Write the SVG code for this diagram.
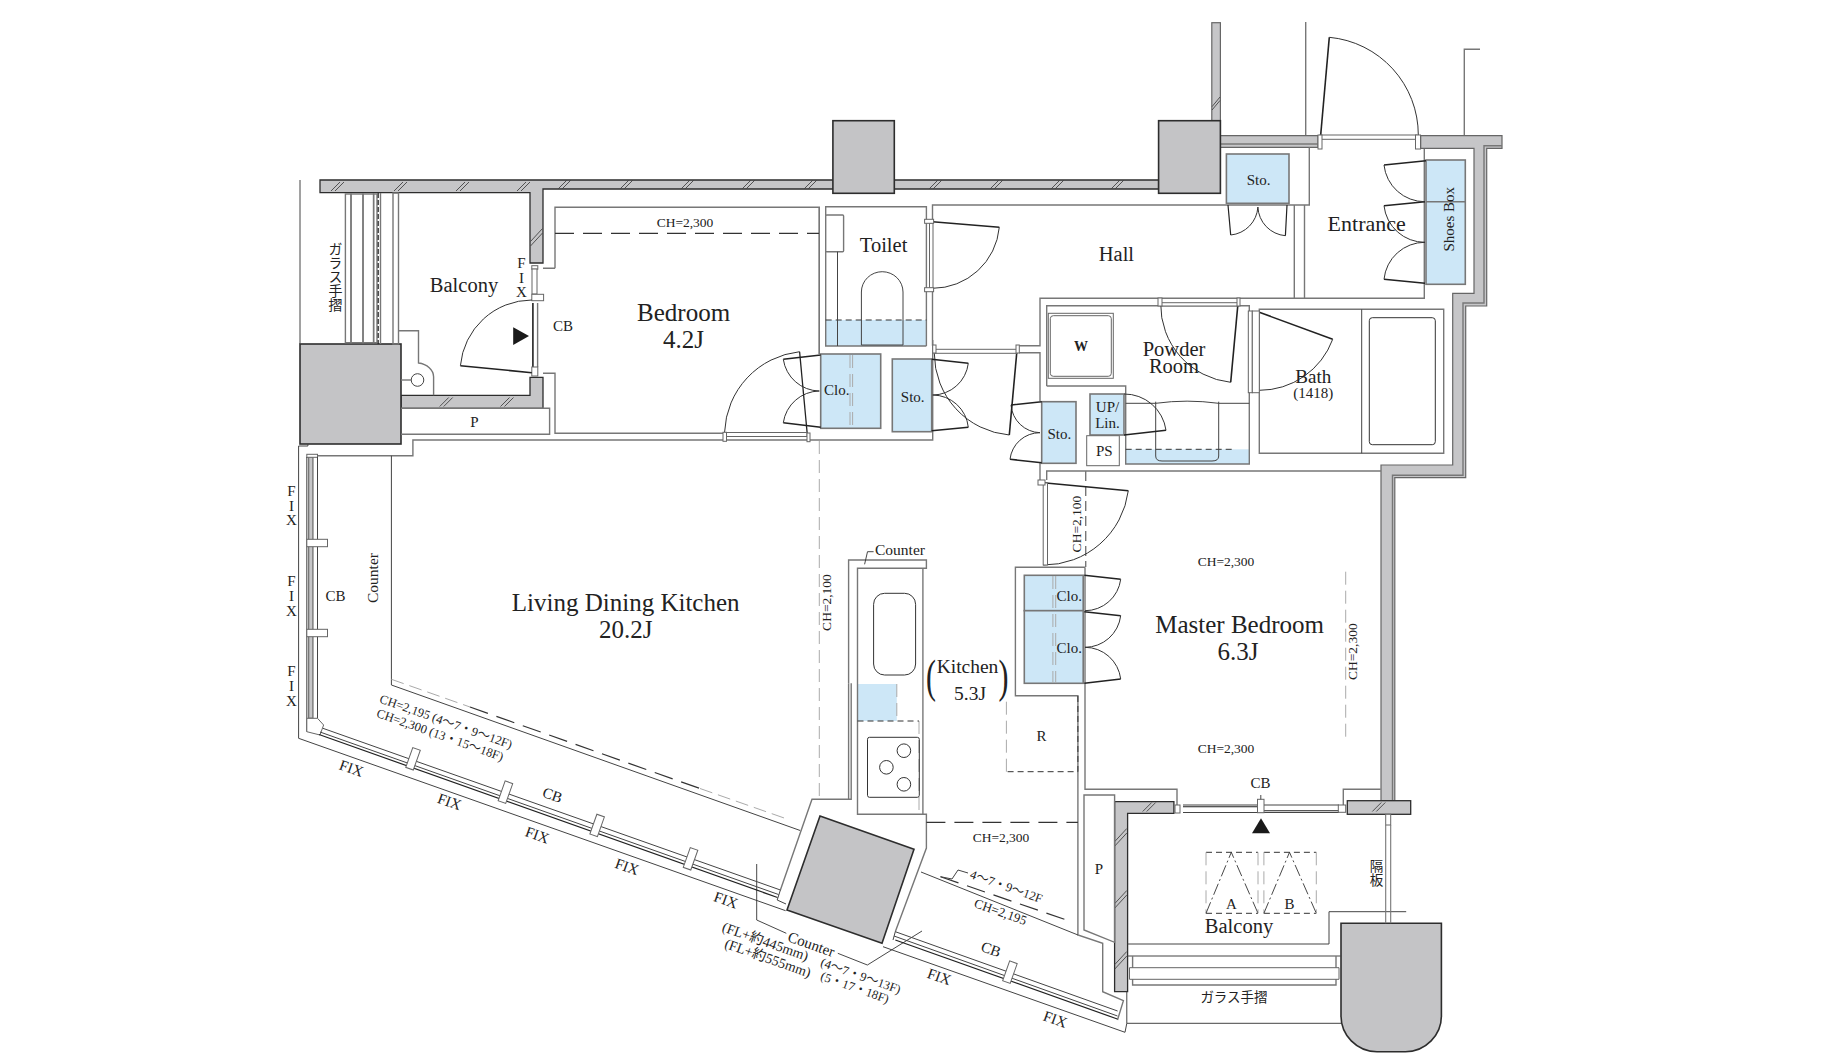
<svg xmlns="http://www.w3.org/2000/svg" xmlns:xlink="http://www.w3.org/1999/xlink" width="1840" height="1064" viewBox="0 0 1840 1064">
<style>
text{font-family:"Liberation Serif","Noto Sans CJK JP",serif;fill:#222;text-anchor:middle}
.s13{font-size:13.5px}.s15{font-size:15px}.s20{font-size:20.5px}.s25{font-size:25px}
.c{dominant-baseline:central}
.v{writing-mode:vertical-rl;font-family:"Noto Sans CJK JP",sans-serif;font-size:14px}
.n{fill:none;stroke:#444;stroke-width:1}
.t{fill:none;stroke:#333;stroke-width:.9}
.g{fill:none;stroke:#777;stroke-width:1.4}
.w{fill:#fff;stroke:#666;stroke-width:1}
.k{fill:none;stroke:#222;stroke-width:1.6}
.a{fill:none;stroke:#333;stroke-width:1}
.d{fill:none;stroke:#333;stroke-width:1.2;stroke-dasharray:19 9}
.e{fill:none;stroke:#333;stroke-width:1;stroke-dasharray:6 4}
.f{fill:none;stroke:#aaa;stroke-width:1;stroke-dasharray:13 6}
.p{fill:#c4c4c6;stroke:#2d2d2d;stroke-width:1.6}
.wl{fill:#c6c6c8;stroke:#2d2d2d;stroke-width:1.3}
.wm{fill:#c6c6c8;stroke:#666;stroke-width:1.2}
.b{fill:#cde7f7}
.bx{fill:#cde7f7;stroke:#777;stroke-width:1.6}
.h{fill:none;stroke:#444;stroke-width:.9}
</style>
<defs>
<path id="h" class="h" d="M-6,4.5L3,-4.5M-2,4.5L7,-4.5"/>
<path id="hv" class="h" d="M-6,6.5L6,-6.5M-6,11L6,-2"/>
<rect id="mu" class="w" x="-4" y="-10" width="8" height="21" stroke="#444"/>
</defs>

<g id="walls">
<path class="wl" d="M320,180H1158.6V189H543V263H530V192.700H320Z"/>
<path class="wl" d="M401,395.300H530V377.300H543V408.300H401Z"/>
<rect class="wm" x="1211.800" y="22.700" width="8.600" height="98"/>
<path class="wm" d="M1220.400,135.700H1318V147.300H1220.400Z"/>
<path class="g" d="M1220.400,144H1318"/>
<path class="wm" d="M1420.700,135.700H1502V148.300H1486.700V306H1465.700V477.700H1394.800V800.700H1381V465H1452.700V293.300H1474V148.300H1420.700Z"/>
<path class="g" d="M1502,145.700H1484V303H1463V475.300H1392.500V800"/>
<path class="wl" d="M1114.600,801.700H1173.900V813.300H1127.600V991.700H1114.600Z"/>
<rect class="wl" x="1347.300" y="800.700" width="63.400" height="13.600"/>
<g id="hatches">
<use xlink:href="#h" x="337" y="186.500"/><use xlink:href="#h" x="400" y="186.500"/><use xlink:href="#h" x="462" y="186.500"/><use xlink:href="#h" x="523" y="186.500"/><use xlink:href="#h" x="564" y="184.500"/><use xlink:href="#h" x="626" y="184.500"/><use xlink:href="#h" x="687" y="184.500"/><use xlink:href="#h" x="748" y="184.500"/><use xlink:href="#h" x="810" y="184.500"/><use xlink:href="#h" x="935" y="184.500"/><use xlink:href="#h" x="996" y="184.500"/><use xlink:href="#h" x="1057" y="184.500"/><use xlink:href="#h" x="1117" y="184.500"/>
<use xlink:href="#h" x="445.700" y="402"/><use xlink:href="#h" x="506.500" y="402"/>
<use xlink:href="#h" x="1148.700" y="807"/><use xlink:href="#h" x="1378.300" y="807"/>
<use xlink:href="#hv" x="536.500" y="235"/><use xlink:href="#hv" x="1120.800" y="835"/><use xlink:href="#hv" x="1120.800" y="897"/><use xlink:href="#hv" x="1120.800" y="958"/>
<path class="h" d="M1212,106.700L1220,97M1212,110L1220,100.500"/>
</g>
</g>

<g id="pillars">
<rect class="p" x="300" y="344" width="101" height="100"/>
<rect class="p" x="832.900" y="120.700" width="61.400" height="72.600"/>
<rect class="p" x="1158.600" y="120.700" width="61.800" height="72.600"/>
<path class="p" d="M820,816L914,849.300L882,943.300L787,910Z"/>
<path class="p" d="M1341,923.300H1441.400V1015A36,36 0 0 1 1405.400,1051.700H1377A36,36 0 0 1 1341,1015Z"/>
</g>

<g id="blue-fills">
<rect class="b" x="825.700" y="320" width="100.700" height="26"/>
<rect class="b" x="1125.700" y="449.300" width="123.600" height="14.700"/>
<rect class="b" x="857.500" y="684" width="39.300" height="37"/>
</g>

<g id="structure">
<path class="n" d="M300,180V344"/>
<path class="g" d="M555,268.300V207.300H819.300V354M543,268.300H555M543,373.300H555V433.300H724.600"/>
<path class="g" d="M401,408.300H549.600V434.300H401"/>
<path class="n" d="M307.900,444V446H298.600V738.300L785.600,910.700"/>
<path class="g" d="M317.500,455.700H412.900V440H807M810,440H932.700V340"/>
<path class="n" d="M391.400,455.700V685L800.200,830.500"/>
<path class="g" d="M819.300,207.300V354"/>
<path class="g" d="M926.400,346V206.700H825.700V346H926.400"/>
<path class="g" d="M932.500,221V205H1309.300V147.300M932.500,291V345.700"/>
<rect class="w" x="929.500" y="223" width="3.500" height="65"/>
<path class="g" d="M1294.300,205V298.300M1304.500,205V298.300M1424.300,149V298.300H1040V345.700H1019M1019,352.700H1040V401M1040,463V480"/>
<path class="g" d="M1046.700,480V471H1381M1046.700,386V305.700H1249.300V464H1125.700V386H1046.700"/>
<path class="n" d="M1125.700,403.300H1155.700Q1187,399 1218.700,403.300H1249.300"/>
<path class="g" d="M1085,567.300H1015.400V695.700H1077.900V935L1102.700,943.300V991.700L1123.400,1000.700L1117.500,1020M1085,567.300V789.300H1177V805"/>
<path class="g" d="M1084,795H1114.600V942.300L1084,930Z"/>
<path class="g" d="M1343.300,805V789.300H1380.700"/>
<path class="g" d="M1464.300,135V49.300H1480M1305.700,22V135"/>
<path class="g" d="M848.600,683.300V799.300M851.200,683.300V799.300H812L780.400,890"/>
<path class="g" d="M848.600,683.300V560H926.400V568.300H857.500V814.300H926.400V848L895.300,931.700"/>
<path class="g" d="M922.900,568V814.300"/>
<path class="n" d="M921,872L1078,935"/>
<path class="n" d="M1127.600,944H1329V911.700H1406.200"/>
<path class="n" d="M1127.600,956H1341"/>
<path class="g" d="M1132.600,956V985H1336V956"/>
<path class="w" d="M1129.500,967.700H1339V979.300H1129.500Z" stroke="#555"/>
<path class="n" d="M1126.800,991.700V1023.300H1341M1126.800,1023.300L1125,1032.300L883,946.700"/>
<path class="g" d="M1085.700,471V567" stroke-dasharray="10 5" stroke="#bbb"/>
<path class="f" d="M819.300,441V800M1345.700,571.700V738.300"/>
<path class="f" d="M896.800,684V721M919,721V814" stroke-dasharray="6 4"/>
<path class="f" d="M1006.400,701.700V771.700" stroke-dasharray="6 4"/>
<path class="e" d="M1077.900,696V771.700H1006.400M857.500,721H919"/>
<path class="d" d="M555,233.300H819M926.400,822.300H1077.900"/>
<path class="e" d="M825.700,320H926.400M1125.700,449.300H1235"/>
<path class="f" d="M391.400,679.300L470,707" stroke-dasharray="15 12"/>
<path class="d" d="M470,707L700,788.500"/>
<path class="f" d="M700,788.500L787,819" stroke="#777" stroke-dasharray="15 12"/>
<path class="d" d="M940.500,876.700L1071.400,921.700" stroke-width="1" stroke-dasharray="16 10"/>
<path class="n" d="M940.500,876.700L952,879L958,870L968,873"/>
<path class="t" d="M756.700,864V920L786.300,933.300M837.800,953.300L867.400,965L922,931"/>
<path class="t" d="M864.600,564.300L867.500,551.700H873.600"/>
</g>

<g id="balcony-fixtures">
<rect class="g" x="345.400" y="194" width="5.600" height="148.700"/>
<rect class="g" x="351" y="194" width="12" height="148.700"/>
<rect class="g" x="363" y="194" width="10.600" height="148.700"/>
<rect class="g" x="373.600" y="194" width="3.400" height="148.700"/>
<path d="M378.200,193V344" stroke="#222" stroke-width="1.2" stroke-dasharray="5 2"/>
<path class="g" d="M380.500,193V344"/>
<rect class="g" x="393" y="193" width="5.500" height="151"/>
<path class="g" d="M398.500,330.700H418.500V363A18,14 0 0 1 433.600,376.700V395.300"/>
<circle class="n" cx="417.500" cy="380" r="6.300"/>
<path class="g" d="M401,380H411"/>
</g>

<g id="windows">
<rect class="w" x="531.800" y="265.700" width="6" height="3.500"/>
<rect class="w" x="532" y="269" width="5" height="25"/>
<rect class="w" x="531.800" y="294.300" width="11.800" height="6.400"/>
<path class="k" d="M532.900,303V367" stroke-width="1.3"/>
<path class="g" d="M537.600,303V367"/>
<rect class="w" x="531.800" y="367" width="6" height="9"/>
<rect class="g" x="308.600" y="456.700" width="4.300" height="261.600" style="fill:#c6c6c8"/>
<rect class="w" x="306.800" y="454.300" width="10.700" height="3"/>
<path class="n" d="M306.800,457V731.700M317.500,457V718.300"/>
<rect class="w" x="306.800" y="539.300" width="20.700" height="7.400"/>
<rect class="w" x="306.800" y="629.300" width="20.700" height="7.400"/>
<path class="w" d="M306.800,718.300H317.500L323.600,725L320,735L306.800,731.700Z"/>
<path class="n" d="M322.900,728.300L780.400,890M320,732L778.500,894.500"/>
<path class="k" d="M319,734.500L777.500,897.500" style="stroke-width:1.200px"/>
<path class="n" d="M780.400,890L777.200,900L786,904"/>
<use xlink:href="#mu" transform="translate(413.200 758.300) rotate(19.500)"/>
<use xlink:href="#mu" transform="translate(505.600 791.700) rotate(19.500)"/>
<use xlink:href="#mu" transform="translate(597.300 825) rotate(19.500)"/>
<use xlink:href="#mu" transform="translate(690.700 858.300) rotate(19.500)"/>
<path class="n" d="M895.300,931.700L1117.600,1011M894,936L1117.500,1016"/>
<path class="k" d="M895.300,940L1117.300,1019" style="stroke-width:1.200px"/>
<path class="n" d="M895.300,931.700L893,940"/>
<use xlink:href="#mu" transform="translate(1010.100 971.700) rotate(19.500)"/>
<path class="n" d="M1183,805H1257.500M1264,805H1339M1183,812.500H1339"/>
<path class="k" d="M1183,806.700H1257.500M1264,810.700H1339.600" style="stroke-width:1.100px"/>
<rect class="w" x="1175" y="805" width="5" height="8"/>
<rect class="w" x="1338.300" y="805" width="7.400" height="7.300"/>
<rect class="w" x="1257.500" y="799.300" width="6.500" height="13.400"/>
<path class="t" d="M1260.800,795V799.300"/>
<path d="M1252,833.300H1270L1261,818.300Z" fill="#1a1a1a"/>
<path d="M513.200,327.300V345L529,336Z" fill="#1a1a1a"/>
<rect class="w" x="1385.700" y="814.300" width="5" height="10.700"/>
<path class="g" d="M1385.700,825V923.300M1390.700,825V923.300" style="stroke-width:1.100px"/>
</g>

<g id="toilet"><rect class="g" x="825.700" y="215" width="17.900" height="36.700" rx="1" style="fill:#fff"/>
<path class="n" d="M837.500,251.700V346M861.400,345V292A20.800,20.300 0 0 1 903,292V345Z"/></g>

<g id="closets">
<rect class="bx" x="820.700" y="354" width="60" height="74.300"/>
<path class="f" d="M850,355V427M852.600,355V427" stroke-dasharray="7 3"/>
<rect class="bx" x="892.300" y="359" width="39.400" height="72.700"/>
<rect class="bx" x="1226.400" y="154" width="62.600" height="49.300"/>
<rect class="bx" x="1426" y="160" width="39.300" height="124.300"/>
<path class="g" d="M1426,201.700H1465"/>
<rect class="bx" x="1041.700" y="401.700" width="34.300" height="61.600"/>
<rect class="bx" x="1090" y="394" width="34" height="41"/>
<rect class="w" x="1086.700" y="435.700" width="32.600" height="30"/>
<rect class="bx" x="1024.300" y="575.300" width="58.900" height="35.400"/>
<rect class="bx" x="1024.300" y="610.700" width="58.900" height="72.600"/>
<path class="f" d="M1052.900,576V683M1055.700,576V683" stroke-dasharray="7 3"/>
</g>

<g id="wet-fixtures">
<rect class="w" x="1048.300" y="313.300" width="65" height="65"/>
<rect class="w" x="1050.300" y="315.700" width="61" height="60.600" rx="3"/>
<path class="n" d="M1155.700,401.700V456Q1155.700,461 1162,461H1212Q1218.700,461 1218.700,456V401.700"/>
<path class="g" d="M1259.300,309.300H1443.700V453.300H1259.300Z"/>
<path class="n" d="M1361.700,309.300V453.300"/>
<rect class="a" x="1369.300" y="317.700" width="66" height="127" rx="3"/>
<rect class="a" x="873.600" y="593.300" width="42" height="81.700" rx="11"/>
<rect class="a" x="867.500" y="737.300" width="51.800" height="60" rx="2"/>
<circle class="a" cx="903.900" cy="750.700" r="6.800"/><circle class="a" cx="886.400" cy="767.300" r="6.800"/><circle class="a" cx="903.900" cy="784.300" r="6.800"/>
</g>

<g id="outdoor-units">
<path class="e" d="M1206,852.300H1258M1206,913.300H1258M1263.900,852.300H1316.300M1263.900,913.300H1316.300" stroke-dasharray="17 4"/>
<path class="f" d="M1206,852.300V913.300M1258,852.300V913.300M1263.900,852.300V913.300M1316.300,852.300V913.300" stroke-dasharray="14 4"/>
<path class="t" stroke-dasharray="12 3 2 3" d="M1206,913.300L1231.300,852.300L1258,913.300M1263.900,913.300L1289.500,852.300L1316.300,913.300"/>
</g>

<g id="doors">
<path class="k" d="M531.800,372.700L460.400,365.700"/><path class="a" d="M460.400,365.700A72,72 0 0 1 531.800,300"/>
<path class="k" d="M807.500,436.700L799.600,351.700" style="stroke-width:1.300px"/><path class="a" d="M724.600,432A84,84 0 0 1 799.600,351.700"/>
<rect class="w" x="725" y="432.500" width="82" height="4"/>
<rect class="w" x="723" y="432.300" width="3.500" height="9"/><rect class="w" x="807" y="433" width="3" height="8.700"/>
<path class="k" d="M820.700,355L783.300,359.300"/><path class="a" d="M783.300,359.300A37,37 0 0 0 819.300,391"/>
<path class="k" d="M820.700,427.300L783.300,422.700"/><path class="a" d="M783.300,422.700A37,37 0 0 1 819.300,391"/>
<path class="k" d="M932.500,221.700L999.300,227.300"/><path class="a" d="M999.300,227.300A67,67 0 0 1 932.500,288.300"/>
<rect class="w" x="924.600" y="219.300" width="9" height="4"/><rect class="w" x="924.600" y="287.700" width="9" height="4"/>
<path class="k" d="M1320.700,135L1329.300,37.300"/><path class="a" d="M1329.300,37.300A98,98 0 0 1 1418.300,135"/>
<rect class="w" x="1320" y="135" width="97" height="4.300"/>
<rect class="w" x="1318" y="135" width="4" height="14" stroke="#444"/><rect class="w" x="1415.500" y="135" width="5" height="14" stroke="#444"/>
<path class="k" d="M1228,205L1230.700,235M1287,205L1285.400,235.700" style="stroke-width:1.200px"/>
<path class="a" d="M1230.700,235A30,30 0 0 0 1257.900,207M1285.400,235.700A30,30 0 0 1 1257.900,207"/>
<path class="k" d="M1426,160.700L1384,165M1425,201.700L1384,205.700M1425,283.300L1384,279.300"/>
<path class="a" d="M1384,165A41,41 0 0 0 1425,201.700M1384,205.700A41,41 0 0 0 1425,242.300M1384,279.300A41,41 0 0 1 1425,242.300"/>
<path class="k" d="M1259.300,312.300L1332.700,339.300"/><path class="a" d="M1332.700,339.300A78,78 0 0 1 1259.300,390.300"/>
<rect class="w" x="1248.300" y="311" width="4" height="81.700"/><rect class="w" x="1252.300" y="311" width="7" height="81.700"/>
<path class="k" d="M1238,303.300L1230.700,382.300"/><path class="a" d="M1230.700,382.300A78,78 0 0 1 1160.700,303.300"/>
<rect class="w" x="1160.700" y="302.700" width="77.300" height="3.300" stroke="#333"/>
<rect class="w" x="1158" y="298" width="4" height="8"/><rect class="w" x="1237" y="298" width="3" height="8"/>
<path class="k" d="M1124,435L1166,430.300"/><path class="a" d="M1166,430.300A42,42 0 0 0 1124,394"/>
<path class="k" d="M1041.700,401.700L1011,405M1041.700,462.700L1010,459.300"/>
<path class="a" d="M1011,405A30,30 0 0 0 1040,432.700M1010,459.300A30,30 0 0 1 1040,432.700"/>
<path class="k" d="M1016.700,353.300L1009.300,435"/><path class="a" d="M934.300,353.300A82,82 0 0 0 1009.300,435"/>
<rect class="w" x="934.300" y="349.300" width="83" height="4"/>
<rect class="w" x="932.700" y="345" width="3.300" height="8"/><rect class="w" x="1016" y="345" width="3.300" height="8"/>
<path class="k" d="M931.700,359.300L968.300,363.300M931.700,430.700L968.300,427.300"/>
<path class="a" d="M968.300,363.300A36,36 0 0 1 932.700,395M968.300,427.300A36,36 0 0 0 932.700,395"/>
<path class="k" d="M1043.300,482.700L1128.300,490.700"/><path class="a" d="M1128.300,490.700A85,85 0 0 1 1043.200,565"/>
<rect class="w" x="1043.200" y="483" width="4.300" height="82"/><rect class="w" x="1038" y="480" width="7" height="5"/>
<path class="k" d="M1084.300,575.300L1120.700,579.300M1084.300,611.700L1120.700,615.700M1084.300,683.300L1120.700,679"/>
<path class="a" d="M1120.700,579.300A36,36 0 0 1 1085,610.700M1120.700,615.700A36,36 0 0 1 1085,647.300M1120.700,679A36,36 0 0 0 1085,647.300"/>
</g>

<g id="labels">
<text class="s25" x="683.600" y="320.700">Bedroom</text><text class="s25" x="683.600" y="348.300">4.2J</text>
<text class="s20" x="464" y="291.700">Balcony</text>
<text class="s15" x="521.400" y="267.700">F</text><text class="s15" x="521.400" y="282.700">I</text><text class="s15" x="521.400" y="296.700">X</text>
<text class="s15" x="563" y="331">CB</text>
<text class="v" x="335.400" y="276.500">ガラス手摺</text>
<text class="s15" x="474.300" y="426.500">P</text>
<text class="s13" x="685" y="226.500">CH=2,300</text>
<text class="s20" x="883.600" y="251.700">Toilet</text>
<text class="s20" x="1116.400" y="260.700">Hall</text>
<text class="s15" x="1258.600" y="185">Sto.</text>
<text class="s20" x="1366.700" y="230.700" style="font-size:22px">Entrance</text>
<text class="s15" transform="translate(1454 219.300) rotate(-90)">Shoes Box</text>
<text class="s20" x="1174" y="356">Powder</text><text class="s20" x="1174" y="373.300">Room</text>
<text class="s15" x="1081" y="350.700" style="font-weight:bold;font-size:14px">W</text>
<text class="s20" x="1313.300" y="382.700" style="font-size:19px">Bath</text><text class="s15" x="1313.300" y="398.300">(1418)</text>
<text class="s15" x="836.700" y="395">Clo.</text>
<text class="s15" x="912.700" y="402.300">Sto.</text>
<text class="s15" x="1059.300" y="439.300">Sto.</text>
<text class="s15" x="1107.500" y="411.700">UP/</text><text class="s15" x="1107.500" y="428.300">Lin.</text>
<text class="s15" x="1104.300" y="455.700">PS</text>
<text class="s13" transform="translate(1081 524) rotate(-90)">CH=2,100</text>
<text class="s13" transform="translate(831 602.500) rotate(-90)">CH=2,100</text>
<text class="s13" transform="translate(1357 651.700) rotate(-90)">CH=2,300</text>
<text class="s15" x="900" y="555" style="font-size:15.500px">Counter</text>
<text class="s25" x="625.700" y="611">Living Dining Kitchen</text><text class="s25" x="625.700" y="638.300">20.2J</text>
<text class="s20" x="967.500" y="672.700" style="font-size:19.500px">Kitchen</text><text class="s20" x="970" y="700" style="font-size:19.500px">5.3J</text>
<text transform="translate(931 692) scale(.65 1)" style="font-size:46px">(</text><text transform="translate(1003.500 692) scale(.65 1)" style="font-size:46px">)</text>
<text class="s15" x="1069.300" y="601">Clo.</text><text class="s15" x="1069.300" y="652.700">Clo.</text>
<text class="s25" x="1239.600" y="633.300">Master Bedroom</text><text class="s25" x="1237.900" y="660">6.3J</text>
<text class="s13" x="1226" y="565.700">CH=2,300</text><text class="s13" x="1226" y="752.700">CH=2,300</text>
<text class="s13" x="1001" y="841.700">CH=2,300</text>
<text class="s15" x="1041.400" y="740.700">R</text>
<text class="s15" x="1260.400" y="788.300">CB</text>
<text class="s15" x="1099" y="873.500">P</text>
<text class="s15" x="1231.300" y="909.300">A</text><text class="s15" x="1289.500" y="909.300">B</text>
<text class="s20" x="1239" y="932.700">Balcony</text>
<text class="v" x="1376.400" y="873" style="font-size:13.500px">隔板</text>
<text style="font-family:'Noto Sans CJK JP',sans-serif;font-size:13.500px" x="1234" y="1001.700">ガラス手摺</text>
<text class="s15" x="291.400" y="495.700">F</text><text class="s15" x="291.400" y="510.700">I</text><text class="s15" x="291.400" y="525">X</text>
<text class="s15" x="291.400" y="586">F</text><text class="s15" x="291.400" y="601">I</text><text class="s15" x="291.400" y="615.700">X</text>
<text class="s15" x="291.400" y="676">F</text><text class="s15" x="291.400" y="691">I</text><text class="s15" x="291.400" y="705.700">X</text>
<text class="s15" x="335.400" y="600.700">CB</text>
<text class="s15" transform="translate(378 578) rotate(-90)" style="font-size:15.500px">Counter</text>
<g id="angled-labels">
<text class="s15 c" transform="translate(351.400 768.300) rotate(19.500)">FIX</text>
<text class="s15 c" transform="translate(449.500 801.700) rotate(19.500)">FIX</text>
<text class="s15 c" transform="translate(537.200 835) rotate(19.500)">FIX</text>
<text class="s15 c" transform="translate(627 866.700) rotate(19.500)">FIX</text>
<text class="s15 c" transform="translate(725.900 900) rotate(19.500)">FIX</text>
<text class="s15 c" transform="translate(939.300 976.700) rotate(19.500)">FIX</text>
<text class="s15 c" transform="translate(1055.300 1019.300) rotate(19.500)">FIX</text>
<text class="s15 c" transform="translate(552.500 795) rotate(19.500)">CB</text>
<text class="s15 c" transform="translate(991 949.300) rotate(19.500)">CB</text>
<text class="c" style="font-size:12.500px" transform="translate(446 721.700) rotate(19.500)">CH=2,195 (4〜7・9〜12F)</text>
<text class="c" style="font-size:12.500px" transform="translate(440 735) rotate(19.500)">CH=2,300 (13・15〜18F)</text>
<text class="c" style="font-size:12.500px" transform="translate(1006.300 886.700) rotate(19.500)">4〜7・9〜12F</text>
<text class="c" style="font-size:13px" transform="translate(1000.500 911.700) rotate(19.500)">CH=2,195</text>
<text class="s15 c" transform="translate(811.300 944.300) rotate(19.500)">Counter</text>
<text class="c" style="font-size:14px" transform="translate(765.400 941.700) rotate(19.500)">(FL+約445mm)</text>
<text class="c" style="font-size:14px" transform="translate(767.800 958.300) rotate(19.500)">(FL+約555mm)</text>
<text class="c" style="font-size:12.500px" transform="translate(860.700 976) rotate(19.500)">(4〜7・9〜13F)</text>
<text class="c" style="font-size:12.500px" transform="translate(854.800 987.700) rotate(19.500)">(5・17・18F)</text>
</g>
</g>
</svg>
